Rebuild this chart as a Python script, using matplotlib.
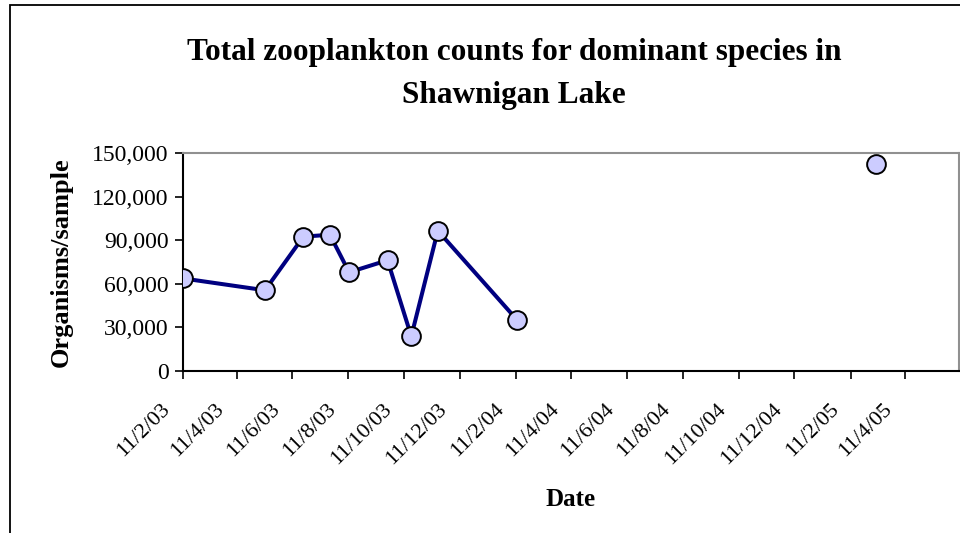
import datetime as dt

import matplotlib
matplotlib.use("Agg")
import matplotlib.pyplot as plt
import matplotlib.dates as mdates
from matplotlib.patches import Rectangle

# Sampling dates (day/month/year) and total counts of dominant zooplankton species
sample_dates = ["11/2/03", "12/5/03", "23/6/03", "22/7/03", "12/8/03",
                "23/9/03", "19/10/03", "17/11/03", "12/2/04", "10/3/05"]
counts = [63700, 55500, 92500, 93800, 67900, 76200, 23700, 96600, 34800, 142400]
# The first nine samples form a continuous series; the last one stands alone
n_connected = 9

tick_labels = ["11/2/03", "11/4/03", "11/6/03", "11/8/03", "11/10/03", "11/12/03",
               "11/2/04", "11/4/04", "11/6/04", "11/8/04", "11/10/04", "11/12/04",
               "11/2/05", "11/4/05"]
y_ticks = [0, 30000, 60000, 90000, 120000, 150000]


def parse(s):
    return dt.datetime.strptime(s, "%d/%m/%y")


dates = [parse(s) for s in sample_dates]
tick_dates = [parse(s) for s in tick_labels]

plt.rcParams["font.family"] = ["Liberation Serif", "DejaVu Serif"]

fig = plt.figure(figsize=(9.6, 5.33), dpi=100)
ax = fig.add_axes([182.7 / 960, 1 - 370.7 / 533, (959 - 182.7) / 960, (370.7 - 153.3) / 533])

line_color = "#000080"
face = "#CCCCFF"
ax.plot(dates[:n_connected], counts[:n_connected], color=line_color, lw=2.9,
        solid_joinstyle="round", zorder=2)
ax.plot(dates, counts, ls="none", marker="o", ms=13.5, mfc=face, mec="black",
        mew=1.4, zorder=3)

ax.set_xlim(parse("11/2/03"), dt.datetime(2005, 6, 9))
ax.set_ylim(0, 150000)

# Date ticks every two months; labels drawn diagonally below each tick
ax.set_xticks(tick_dates)
ax.set_xticklabels([])
xtrans = ax.get_xaxis_transform()
for d, lab in zip(tick_dates, tick_labels):
    ax.annotate(lab, xy=(mdates.date2num(d), 0), xycoords=xtrans, xytext=(-22, -29),
                textcoords="offset pixels", rotation=45, ha="right", va="top",
                rotation_mode="anchor", fontsize=16, annotation_clip=False)

ax.set_yticks(y_ticks)
ax.set_yticklabels([f"{v:,}" for v in y_ticks], fontsize=17)

ax.tick_params(axis="both", direction="out", length=6, width=1.2, color="black")
ax.tick_params(axis="y", pad=4)

for side in ("left", "bottom"):
    ax.spines[side].set_color("black")
    ax.spines[side].set_linewidth(1.5)
for side in ("top", "right"):
    ax.spines[side].set_color("#909090")
    ax.spines[side].set_linewidth(1.5)

ax.set_ylabel("Organisms/sample", fontsize=19, fontweight="bold", labelpad=14)
ax.set_xlabel("Date", fontsize=18, fontweight="bold", va="center")
ax.xaxis.set_label_coords(0.5, (370.7 - 500) / 217.4)

fig.text(514 / 960, 1 - 38 / 533,
         "Total zooplankton counts for dominant species in\nShawnigan Lake",
         ha="center", va="top", fontsize=22.5, fontweight="bold",
         linespacing=1.65)

# Chart-area border
fig.patches.append(Rectangle((9.5 / 960, -0.5), 2, 1.5 - 5 / 533,
                             transform=fig.transFigure, fill=False,
                             edgecolor="black", lw=1.3))

fig.savefig("out.png", dpi=100)
